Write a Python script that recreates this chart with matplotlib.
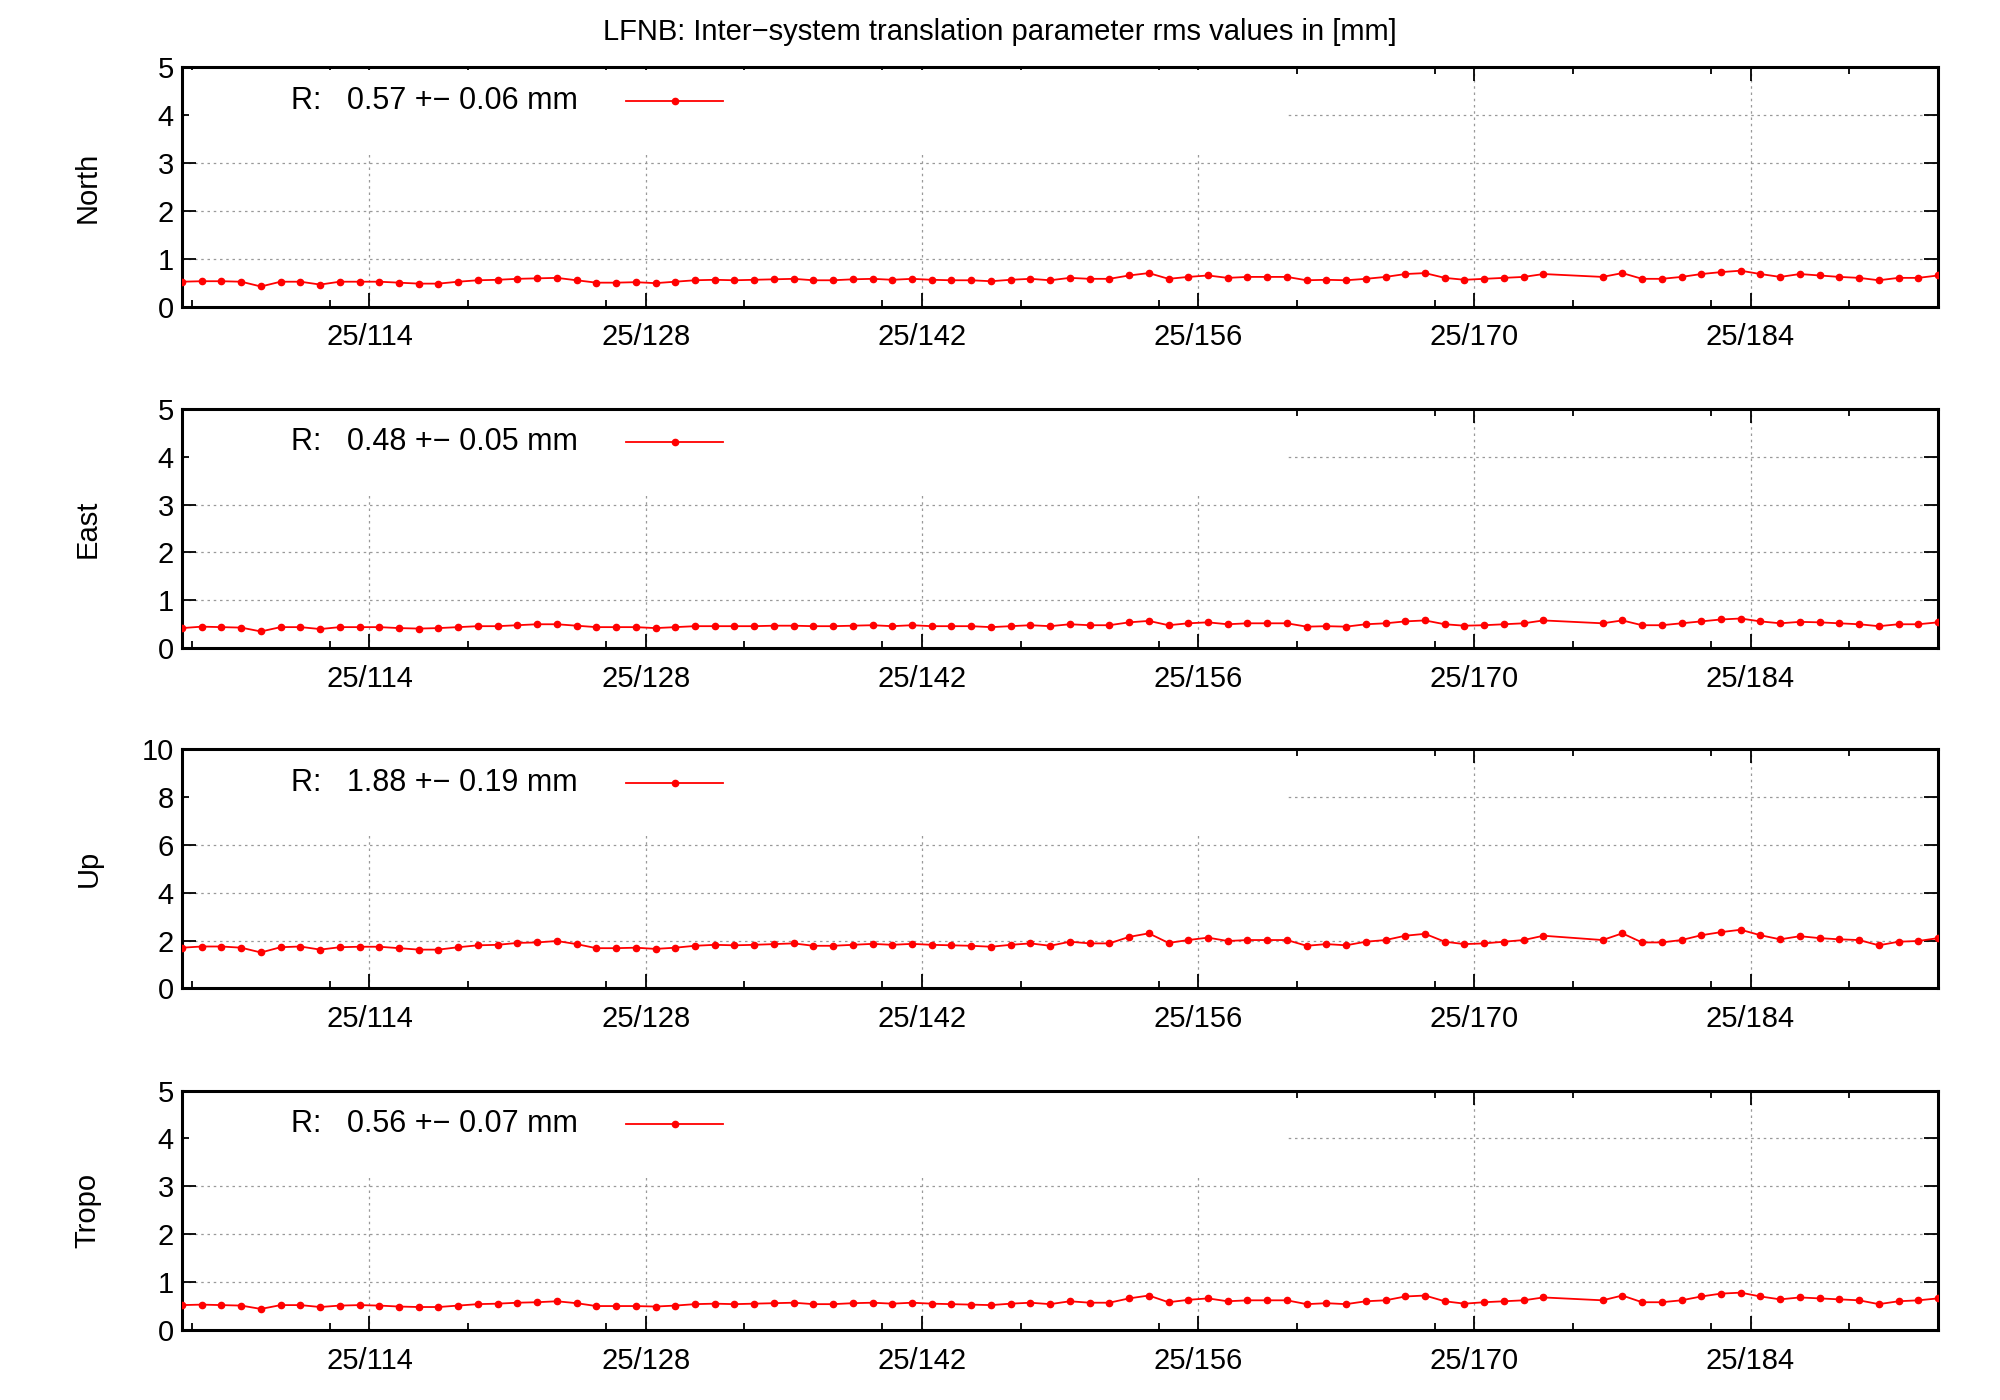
import matplotlib
matplotlib.use("Agg")
import matplotlib.pyplot as plt
from matplotlib.patches import Rectangle
from matplotlib.ticker import MultipleLocator, FixedLocator

plt.rcParams['font.family'] = ['Liberation Sans', 'DejaVu Sans']

days = [104.5 + i for i in range(90) if (104.5 + i) not in (174.5, 175.5)]

north = [0.52,0.53,0.53,0.52,0.42,0.52,0.52,0.46,0.52,0.52,
         0.52,0.50,0.48,0.48,0.52,0.55,0.56,0.58,0.59,0.60,
         0.55,0.50,0.50,0.51,0.49,0.52,0.55,0.56,0.55,0.56,
         0.57,0.58,0.55,0.55,0.57,0.58,0.56,0.58,0.56,0.55,
         0.55,0.53,0.56,0.58,0.55,0.60,0.58,0.58,0.65,0.70,
         0.58,0.62,0.65,0.60,0.62,0.62,0.62,0.55,0.56,0.55,
         0.58,0.62,0.68,0.70,0.60,0.56,0.58,0.60,0.62,0.68,
         0.62,0.70,0.58,0.58,0.62,0.68,0.72,0.75,0.68,0.62,0.68,0.65,0.62,0.60,0.55,0.60,0.60,0.65]
east = [0.42,0.45,0.44,0.43,0.35,0.44,0.44,0.40,0.44,0.44,
        0.44,0.42,0.41,0.42,0.44,0.46,0.46,0.48,0.50,0.50,
        0.47,0.44,0.44,0.44,0.42,0.44,0.46,0.46,0.46,0.46,
        0.47,0.47,0.46,0.46,0.47,0.48,0.46,0.48,0.46,0.46,
        0.46,0.44,0.46,0.48,0.46,0.50,0.48,0.48,0.54,0.57,
        0.48,0.52,0.54,0.50,0.52,0.52,0.52,0.45,0.46,0.45,
        0.50,0.52,0.56,0.58,0.50,0.47,0.48,0.50,0.52,0.58,
        0.52,0.58,0.48,0.48,0.52,0.56,0.60,0.62,0.56,0.52,0.55,0.54,0.52,0.50,0.46,0.50,0.50,0.54]
up = [1.70,1.75,1.75,1.70,1.50,1.72,1.75,1.62,1.72,1.74,
      1.74,1.68,1.62,1.62,1.72,1.80,1.82,1.90,1.92,1.98,
      1.85,1.68,1.68,1.70,1.65,1.70,1.78,1.82,1.80,1.82,
      1.85,1.88,1.78,1.78,1.82,1.86,1.82,1.86,1.82,1.80,
      1.78,1.74,1.82,1.88,1.78,1.95,1.88,1.88,2.15,2.30,
      1.90,2.02,2.12,1.98,2.02,2.02,2.02,1.78,1.85,1.80,
      1.95,2.02,2.20,2.28,1.95,1.85,1.88,1.95,2.02,2.20,
      2.02,2.30,1.92,1.92,2.02,2.22,2.35,2.45,2.22,2.05,2.18,2.10,2.05,2.02,1.80,1.95,1.98,2.10]
tropo = [0.52,0.53,0.52,0.51,0.44,0.52,0.52,0.48,0.51,0.52,
         0.51,0.49,0.48,0.48,0.51,0.54,0.55,0.57,0.58,0.60,
         0.56,0.50,0.50,0.50,0.49,0.51,0.54,0.55,0.54,0.55,
         0.56,0.57,0.54,0.54,0.56,0.57,0.55,0.57,0.55,0.54,
         0.53,0.52,0.55,0.57,0.54,0.60,0.57,0.57,0.66,0.72,
         0.58,0.63,0.66,0.60,0.62,0.62,0.62,0.54,0.56,0.54,
         0.60,0.62,0.70,0.72,0.60,0.55,0.58,0.60,0.62,0.68,
         0.62,0.72,0.58,0.58,0.62,0.70,0.76,0.78,0.70,0.64,0.68,0.66,0.64,0.62,0.54,0.60,0.62,0.66]

panels = ["North", "East", "Up", "Tropo"]
series = [north, east, up, tropo]
stats = ["0.57 +\u2212 0.06 mm", "0.48 +\u2212 0.05 mm", "1.88 +\u2212 0.19 mm", "0.56 +\u2212 0.07 mm"]
ymaxes = [5, 5, 10, 5]
ysteps = [1, 1, 2, 1]
xticks = [114, 128, 142, 156, 170, 184]
xticklabels = ["25/114", "25/128", "25/142", "25/156", "25/170", "25/184"]
title = "LFNB: Inter\u2212system translation parameter rms values in [mm]"

fig = plt.figure(figsize=(20, 14), dpi=100)
bottoms = [0.781, 0.537, 0.294, 0.050]
L, W, H = 0.091, 0.878, 0.171
fs = 21
for i in range(4):
    ax = fig.add_axes([L, bottoms[i], W, H])
    ax.set_axisbelow(True)
    ax.plot(days, series[i], color='red', lw=1.3, marker='o', ms=4.5, zorder=3)
    ax.set_xlim(104.5, 193.5)
    ax.set_ylim(0, ymaxes[i])
    ax.xaxis.set_major_locator(FixedLocator(xticks))
    ax.set_xticklabels(xticklabels)
    ax.xaxis.set_minor_locator(MultipleLocator(7))
    ax.yaxis.set_major_locator(MultipleLocator(ysteps[i]))
    ax.tick_params(which='both', direction='in', top=True, right=True, labelsize=fs)
    ax.tick_params(which='major', length=10, width=1.3)
    ax.tick_params(which='minor', length=5, width=1.3)
    ax.tick_params(axis='x', pad=12)
    ax.tick_params(axis='y', pad=6)
    ax.grid(True, which='major', color='#999999', ls=(0, (2, 3)), lw=0.9)
    for s in ax.spines.values():
        s.set_linewidth(2.2)
    ax.add_patch(Rectangle((0.004, 0.64), 0.626, 0.35, transform=ax.transAxes,
                           facecolor='white', edgecolor='none', zorder=1))
    ax.set_ylabel(panels[i], fontsize=fs, labelpad=40 if i != 2 else 28)
    ax.text(0.062, 0.86, "R:   " + stats[i], transform=ax.transAxes,
            fontsize=fs + 1, va='center', ha='left', zorder=4)
    ax.plot([0.253, 0.308], [0.86, 0.86], transform=ax.transAxes, color='red',
            lw=1.3, zorder=4, clip_on=False)
    ax.plot([0.2805], [0.86], transform=ax.transAxes, color='red', marker='o',
            ms=4.5, zorder=4, clip_on=False)
fig.text(0.5, 0.977, title, ha='center', va='center', fontsize=fs)
fig.savefig("out.png", dpi=100)
